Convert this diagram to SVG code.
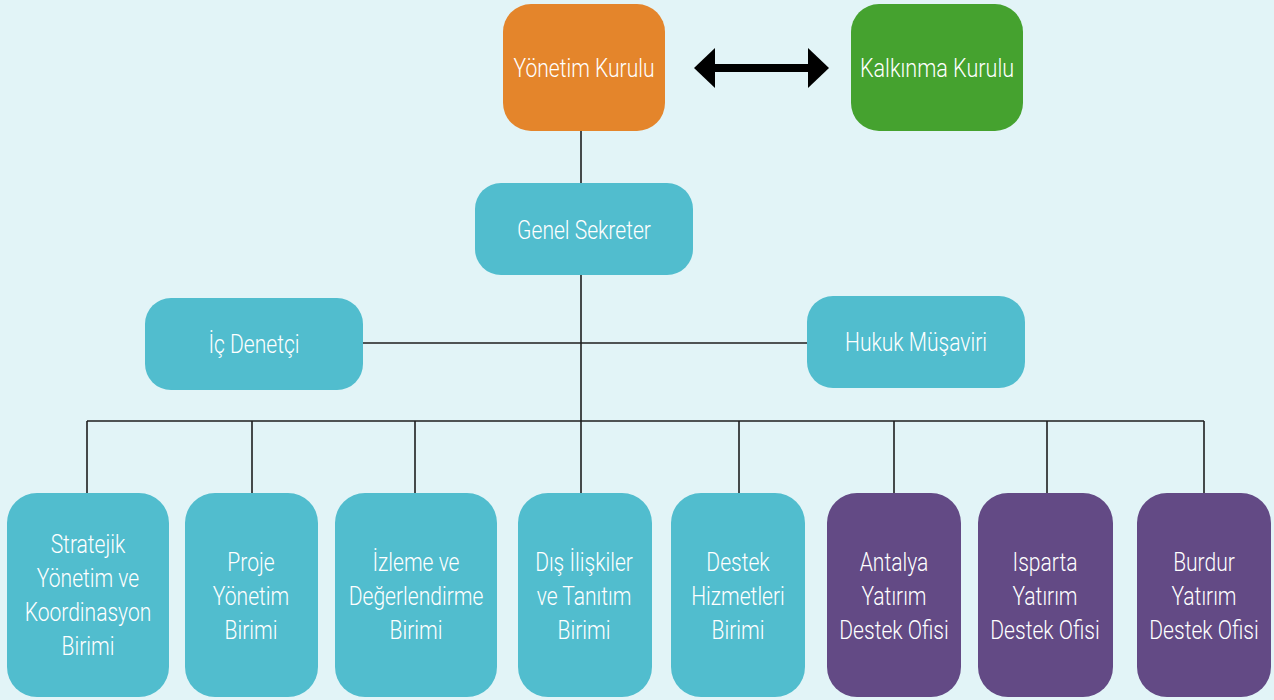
<svg xmlns="http://www.w3.org/2000/svg" width="1274" height="700" viewBox="0 0 1274 700">
<style>
.bg{fill:#e2f4f7}
.teal{fill:#51bdce}
.orange{fill:#e4852b}
.green{fill:#45a22f}
.purple{fill:#634a85}
.t{font-family:Roboto,"Liberation Sans",sans-serif;font-weight:300;font-size:26px;fill:#ffffff;text-anchor:middle}
.c{stroke:#1e1e1e;stroke-width:1.6;fill:none}
</style>
<defs>
<marker id="ah" markerUnits="userSpaceOnUse" markerWidth="22" markerHeight="40" refX="0" refY="20" orient="auto-start-reverse" viewBox="0 0 22 40">
<path d="M0,0 L21,20 L0,40 z" fill="#000"/>
</marker>
</defs>
<rect class="bg" x="0" y="0" width="1274" height="700"/>
<g id="connectors">
<line class="c" x1="581" y1="131" x2="581" y2="183"/>
<line class="c" x1="581" y1="275" x2="581" y2="421"/>
<line class="c" x1="363" y1="343" x2="807" y2="343"/>
<line class="c" x1="87" y1="421" x2="1204" y2="421"/>
<line class="c" x1="87" y1="421" x2="87" y2="493"/>
<line class="c" x1="252" y1="421" x2="252" y2="493"/>
<line class="c" x1="415" y1="421" x2="415" y2="493"/>
<line class="c" x1="581" y1="421" x2="581" y2="493"/>
<line class="c" x1="739" y1="421" x2="739" y2="493"/>
<line class="c" x1="894" y1="421" x2="894" y2="493"/>
<line class="c" x1="1047" y1="421" x2="1047" y2="493"/>
<line class="c" x1="1204" y1="421" x2="1204" y2="493"/>
<line x1="715" y1="68" x2="808" y2="68" stroke="#000" stroke-width="8" marker-start="url(#ah)" marker-end="url(#ah)"/>
</g>
<g id="yonetim-kurulu">
<rect class="orange" x="503" y="4" width="162" height="127" rx="28"/>
<text class="t" transform="translate(584,77) scale(0.81,1)">Yönetim Kurulu</text>
</g>
<g id="kalkinma-kurulu">
<rect class="green" x="851" y="4" width="172" height="127" rx="28"/>
<text class="t" transform="translate(937,77) scale(0.83,1)">Kalkınma Kurulu</text>
</g>
<g id="genel-sekreter">
<rect class="teal" x="475" y="183" width="218" height="92" rx="26"/>
<text class="t" transform="translate(584,239) scale(0.81,1)">Genel Sekreter</text>
</g>
<g id="ic-denetci">
<rect class="teal" x="145" y="298" width="218" height="92" rx="26"/>
<text class="t" transform="translate(254,353) scale(0.81,1)">İç Denetçi</text>
</g>
<g id="hukuk-musaviri">
<rect class="teal" x="807" y="296" width="218" height="92" rx="26"/>
<text class="t" transform="translate(916,351) scale(0.81,1)">Hukuk Müşaviri</text>
</g>
<g id="stratejik">
<rect class="teal" x="7" y="493" width="162" height="204" rx="30"/>
<text class="t" transform="translate(88,553) scale(0.81,1)">Stratejik</text>
<text class="t" transform="translate(88,587) scale(0.81,1)">Yönetim ve</text>
<text class="t" transform="translate(88,621) scale(0.81,1)">Koordinasyon</text>
<text class="t" transform="translate(88,655) scale(0.81,1)">Birimi</text>
</g>
<g id="proje">
<rect class="teal" x="185" y="493" width="133" height="204" rx="30"/>
<text class="t" transform="translate(251,571) scale(0.81,1)">Proje</text>
<text class="t" transform="translate(251,605) scale(0.81,1)">Yönetim</text>
<text class="t" transform="translate(251,639) scale(0.81,1)">Birimi</text>
</g>
<g id="izleme">
<rect class="teal" x="335" y="493" width="162" height="204" rx="30"/>
<text class="t" transform="translate(416,571) scale(0.81,1)">İzleme ve</text>
<text class="t" transform="translate(416,605) scale(0.81,1)">Değerlendirme</text>
<text class="t" transform="translate(416,639) scale(0.81,1)">Birimi</text>
</g>
<g id="dis-iliskiler">
<rect class="teal" x="518" y="493" width="134" height="204" rx="30"/>
<text class="t" transform="translate(584,571) scale(0.81,1)">Dış İlişkiler</text>
<text class="t" transform="translate(584,605) scale(0.81,1)">ve Tanıtım</text>
<text class="t" transform="translate(584,639) scale(0.81,1)">Birimi</text>
</g>
<g id="destek-hizmetleri">
<rect class="teal" x="671" y="493" width="134" height="204" rx="30"/>
<text class="t" transform="translate(738,571) scale(0.81,1)">Destek</text>
<text class="t" transform="translate(738,605) scale(0.81,1)">Hizmetleri</text>
<text class="t" transform="translate(738,639) scale(0.81,1)">Birimi</text>
</g>
<g id="antalya">
<rect class="purple" x="827" y="493" width="134" height="204" rx="30"/>
<text class="t" transform="translate(894,571) scale(0.81,1)">Antalya</text>
<text class="t" transform="translate(894,605) scale(0.81,1)">Yatırım</text>
<text class="t" transform="translate(894,639) scale(0.81,1)">Destek Ofisi</text>
</g>
<g id="isparta">
<rect class="purple" x="978" y="493" width="135" height="204" rx="30"/>
<text class="t" transform="translate(1045,571) scale(0.81,1)">Isparta</text>
<text class="t" transform="translate(1045,605) scale(0.81,1)">Yatırım</text>
<text class="t" transform="translate(1045,639) scale(0.81,1)">Destek Ofisi</text>
</g>
<g id="burdur">
<rect class="purple" x="1137" y="493" width="134" height="204" rx="30"/>
<text class="t" transform="translate(1204,571) scale(0.81,1)">Burdur</text>
<text class="t" transform="translate(1204,605) scale(0.81,1)">Yatırım</text>
<text class="t" transform="translate(1204,639) scale(0.81,1)">Destek Ofisi</text>
</g>
</svg>
